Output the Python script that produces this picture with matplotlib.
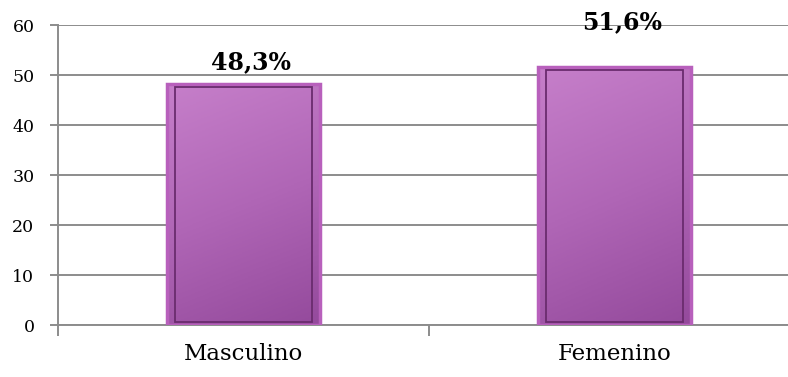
import numpy as np
import matplotlib
matplotlib.use("Agg")
import matplotlib.pyplot as plt
from matplotlib.colors import LinearSegmentedColormap

categories = ["Masculino", "Femenino"]
values = [48.3, 51.6]
value_labels = ["48,3%", "51,6%"]
label_heights = [52.6, 60.6]
y_ticks = [0, 10, 20, 30, 40, 50, 60]

plt.rcParams["font.family"] = ["DejaVu Serif"]

fig = plt.figure(figsize=(7.88, 3.77), dpi=100)
ax = fig.add_axes([58 / 788, 52 / 377, 742 / 788, 300 / 377])

x = np.arange(len(categories))
width = 0.41
grid_c = "#8c8c8c"

ax.set_xlim(-0.5, len(categories) - 0.5)
ax.set_ylim(0, 60)
ax.set_yticks(y_ticks)
ax.set_yticklabels([str(t) for t in y_ticks], fontsize=12.5)
ax.yaxis.grid(True, color=grid_c, linewidth=1.4)
ax.set_axisbelow(True)

ax.set_xticks(x)
ax.set_xticklabels(categories, fontsize=16.5)
ax.set_xticks(np.arange(-0.5, len(categories)), minor=True)
ax.tick_params(axis="x", which="major", length=0, pad=13)
ax.tick_params(axis="x", which="minor", length=8, width=1.4, color=grid_c, direction="out")
ax.tick_params(axis="y", length=6, width=1.4, color=grid_c, pad=11)

for s in ["top", "right"]:
    ax.spines[s].set_visible(False)
for s in ["left", "bottom"]:
    ax.spines[s].set_color(grid_c)
    ax.spines[s].set_linewidth(1.4)

cmap = LinearSegmentedColormap.from_list("purp", ["#c67fca", "#b066b6", "#944a9c"])
gy, gx = np.mgrid[0:1:200j, 0:1:100j]
grad = 0.8 * gy + 0.2 * gx

bars = ax.bar(x, values, width, color="none", edgecolor="#b860bc", linewidth=2.5, zorder=3)
for b in bars:
    x0, w, h = b.get_x(), b.get_width(), b.get_height()
    im = ax.imshow(grad, cmap=cmap, extent=[x0, x0 + w, 0, h], aspect="auto",
                   origin="upper", zorder=2)
    im.set_clip_path(b)
ax.set_xlim(-0.5, len(categories) - 0.5)
ax.set_ylim(0, 60)

inset_x = 0.02
inset_y = 0.6
ax.bar(x, [v - 2 * inset_y for v in values], width - 2 * inset_x, bottom=inset_y,
       color="none", edgecolor="#6a2c6e", linewidth=1.3, zorder=4)

for xi, lab, ly in zip(x, value_labels, label_heights):
    ax.text(xi + 0.02, ly, lab, ha="center", va="center", fontsize=17,
            fontweight="bold", color="black", zorder=5)

fig.savefig("out.png", dpi=100)
